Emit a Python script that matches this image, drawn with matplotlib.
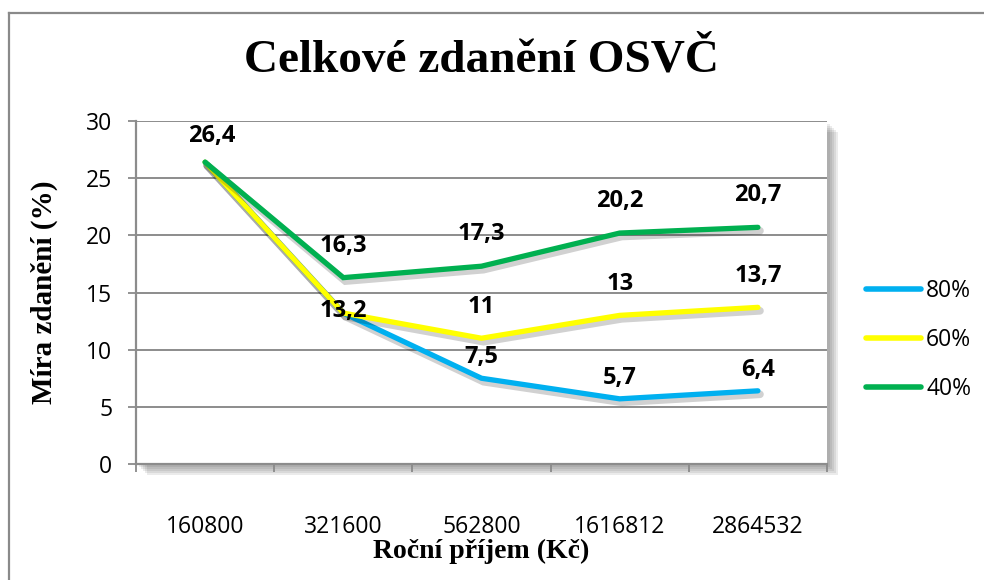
import matplotlib
matplotlib.use("Agg")
import matplotlib.pyplot as plt
import matplotlib.patheffects as pe
from matplotlib.patches import Rectangle
from matplotlib.lines import Line2D

# ---- data ----
categories = ["160800", "321600", "562800", "1616812", "2864532"]
series_names = ["80%", "60%", "40%"]
values_80 = [26.4, 13.2, 7.5, 5.7, 6.4]
values_60 = [26.4, 13.2, 11.0, 13.0, 13.7]
values_40 = [26.4, 16.3, 17.3, 20.2, 20.7]
labels_80 = [None, None, "7,5", "5,7", "6,4"]
labels_60 = [None, "13,2", "11", "13", "13,7"]
labels_40 = ["26,4", "16,3", "17,3", "20,2", "20,7"]
y_ticks = [0, 5, 10, 15, 20, 25, 30]
title = "Celkové zdanění OSVČ"
xlabel = "Roční příjem (Kč)"
ylabel = "Míra zdanění (%)"

colors = ["#00B0F0", "#FFFF00", "#00B050"]

W, H = 984, 580
fig = plt.figure(figsize=(W / 100, H / 100), dpi=100)
fig.patch.set_facecolor("white")

# axes geometry in pixels
ax_l, ax_r, ax_t, ax_b = 136, 827, 121, 464
ax = fig.add_axes([ax_l / W, 1 - ax_b / H, (ax_r - ax_l) / W, (ax_b - ax_t) / H])
ax.set_facecolor("white")

# plot-area shadow (soft)
for i in range(5):
    d = 3 + i * 2
    r = Rectangle(((ax_l + d) / W, 1 - (ax_b + d) / H), (ax_r - ax_l) / W, (ax_b - ax_t) / H,
                  transform=fig.transFigure, facecolor="#404040", edgecolor="none",
                  alpha=0.10)
    fig.add_artist(r)
    r.set_zorder(-5)

# figure border (top and left)
fig.add_artist(Line2D([9 / W, 1], [1 - 12.5 / H, 1 - 12.5 / H], transform=fig.transFigure,
                      color="#8a8a8a", lw=1.6))
fig.add_artist(Line2D([9 / W, 9 / W], [0, 1 - 12.5 / H], transform=fig.transFigure,
                      color="#8a8a8a", lw=1.6))

x = list(range(len(categories)))
all_vals = [values_80, values_60, values_40]
all_labels = [labels_80, labels_60, labels_40]
label_up_px = [21, 31, 32]

for vals, lab, col, name, up in zip(all_vals, all_labels, colors, series_names, label_up_px):
    ax.plot(x, vals, color=col, lw=3.8, solid_capstyle="round", solid_joinstyle="miter",
            label=name, zorder=3,
            path_effects=[pe.SimpleLineShadow(offset=(1.5, -2.5), shadow_color="black",
                                               alpha=0.18, linewidth=5.5),
                          pe.Normal()])
    for xi, v, t in zip(x, vals, lab):
        if t is None:
            continue
        dx, dy = 0, up
        if t == "26,4":
            dx, dy = 7, 26
        if t == "13,2":
            dx, dy = 0, 2
        ax.annotate(t, (xi, v), xytext=(dx * 0.72, dy * 0.72), textcoords="offset points",
                    ha="center", va="center", fontsize=17, fontweight="bold",
                    family="Open Sans", color="black", zorder=5)

ax.set_xlim(-0.5, len(categories) - 0.5)
ax.set_ylim(0, 30)
ax.set_yticks(y_ticks)
ax.set_yticklabels([str(v) for v in y_ticks], family="Open Sans", fontsize=16.5)
ax.set_xticks([i - 0.5 for i in range(len(categories) + 1)])
ax.set_xticklabels([])
ax.set_xticks(x, minor=True)
ax.set_xticklabels(categories, minor=True, family="Open Sans", fontsize=16.5)
ax.tick_params(axis="x", which="major", length=6, color="#8a8a8a", width=1.3, direction="out")
ax.tick_params(axis="x", which="minor", length=0, pad=37)
ax.tick_params(axis="y", length=6, color="#8a8a8a", width=1.3, pad=11)

ax.grid(axis="y", color="#8c8c8c", lw=1.4)
ax.set_axisbelow(True)
for s in ["top", "right"]:
    ax.spines[s].set_visible(False)
for s in ["left", "bottom"]:
    ax.spines[s].set_color("#8c8c8c")
    ax.spines[s].set_linewidth(1.6)

fig.text(481 / W, 1 - 61 / H, title, ha="center", va="center", family="Liberation Serif",
         fontweight="bold", fontsize=34)
fig.text(481 / W, 1 - 551 / H, xlabel, ha="center", va="center", family="Liberation Serif",
         fontweight="bold", fontsize=20)
fig.text(44 / W, 1 - 292 / H, ylabel, ha="center", va="center", rotation=90,
         family="Liberation Serif", fontweight="bold", fontsize=21)

handles, labs = ax.get_legend_handles_labels()
leg = fig.legend(handles, labs, loc="center left", bbox_to_anchor=(866 / W, 1 - 340 / H),
                 frameon=False, prop={"family": "Open Sans", "size": 16.5},
                 handlelength=2.4, handletextpad=0.22, labelspacing=1.07, borderpad=0,
                 borderaxespad=0)
for h in leg.legend_handles:
    h.set_path_effects([])
    h.set_linewidth(4)

fig.savefig("out.png", dpi=100, facecolor="white")
